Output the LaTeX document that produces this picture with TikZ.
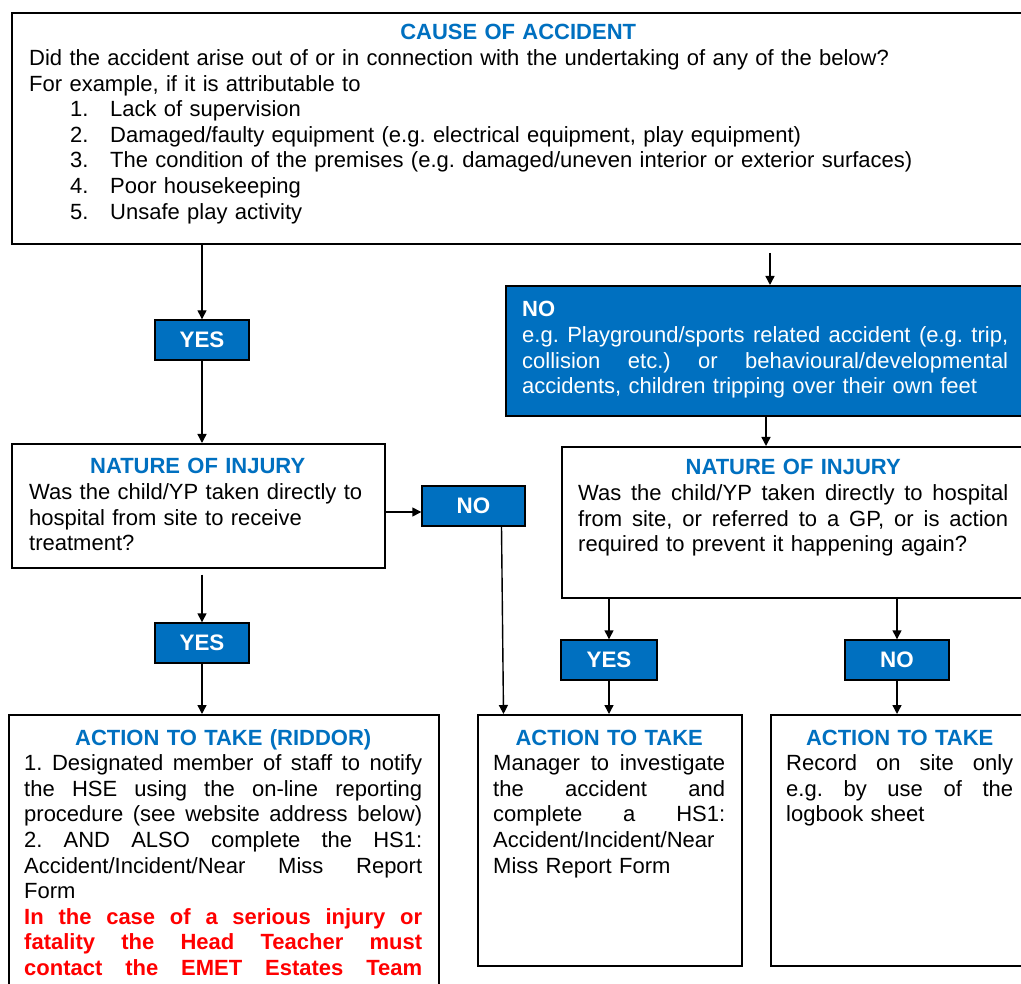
\documentclass[tikz,border=0pt]{standalone}
\usepackage{fontspec}
\setmainfont{Liberation Sans}
\usetikzlibrary{arrows.meta,calc}
\definecolor{blu}{HTML}{0070C0}
\definecolor{redd}{HTML}{FF0000}
\frenchspacing
\newcommand{\jl}[1]{\makebox[\linewidth][s]{\spaceskip=.278em plus 10em minus .1em\relax\xspaceskip=\spaceskip #1}}
\newcommand{\nl}[1]{\mbox{#1}}
\newcommand{\ttl}[1]{\makebox[\linewidth][c]{\bfseries\color{blu}#1}}
\newcommand{\itm}[2]{\hspace*{41pt}\makebox[40pt][l]{#1}#2}
\begin{document}
\begin{tikzpicture}[x=1pt,y=-1pt,
 box/.style={draw=black,line width=1.6pt,anchor=north west,inner sep=0pt},
 tag/.style={draw=black,line width=1.4pt,fill=blu,text=white,font=\bfseries\fontsize{22.4}{25.6}\selectfont,inner sep=0pt,minimum width=94pt,minimum height=40pt},
 txt/.style={anchor=base west,inner sep=0pt,align=left,font=\fontsize{22}{25.6}\selectfont},
 arr/.style={line width=1.4pt,-{Triangle[length=9pt,width=9pt]}}]
\path[fill=white,use as bounding box] (0,0) rectangle (1021,984);

% boxes
\node[box,minimum width=1020pt,minimum height=231pt] (top) at (11,12) {};
\node[box,fill=blu,minimum width=530pt,minimum height=130pt] (nobig) at (505,285) {};
\node[box,minimum width=373pt,minimum height=124pt] (natL) at (11,443) {};
\node[box,minimum width=470pt,minimum height=151pt] (natR) at (561,446) {};
\node[box,minimum width=430pt,minimum height=290pt] (actL) at (8,714) {};
\node[box,minimum width=264pt,minimum height=251pt] (actM) at (477,714) {};
\node[box,minimum width=270pt,minimum height=251pt] (actR) at (770,714) {};

% tags
\node[tag] (yes1) at (202,340) {YES};
\node[tag,minimum width=103pt] (nos) at (473.5,506) {NO};
\node[tag] (yes2) at (202,643) {YES};
\node[tag,minimum width=96pt] (yes3) at (609,660) {YES};
\node[tag,minimum width=104pt] (no3) at (897,660) {NO};

% texts
\node[txt,text width=978pt] (toptxt) at (29,40) {\ttl{CAUSE OF ACCIDENT}\\
Did the accident arise out of or in connection with the undertaking of any of the below?\\
For example, if it is attributable to\\
\itm{1.}{Lack of supervision}\\
\itm{2.}{Damaged/faulty equipment (e.g. electrical equipment, play equipment)}\\
\itm{3.}{The condition of the premises (e.g. damaged/uneven interior or exterior surfaces)}\\
\itm{4.}{Poor housekeeping}\\
\itm{5.}{Unsafe play activity}};

\node[txt,text width=486pt,text=white] (nobigtxt) at (522,317) {\textbf{NO}\\
\jl{e.g. Playground/sports related accident (e.g. trip,}\\
\jl{collision etc.) or behavioural/developmental}\\
\nl{accidents, children tripping over their own feet}};

\node[txt,text width=337pt] (natLtxt) at (29,474) {\ttl{NATURE OF INJURY}\\
\nl{Was the child/YP taken directly to}\\
\nl{hospital from site to receive}\\
\nl{treatment?}};

\node[txt,text width=430pt] (natRtxt) at (578,475) {\ttl{NATURE OF INJURY}\\
\jl{Was the child/YP taken directly to hospital}\\
\jl{from site, or referred to a GP, or is action}\\
\nl{required to prevent it happening again?}};

\node[txt,text width=398pt] (actLtxt) at (24,745) {\ttl{ACTION TO TAKE (RIDDOR)}\\
\jl{1. Designated member of staff to notify}\\
\jl{the HSE using the on-line reporting}\\
\jl{procedure (see website address below)}\\
\jl{2. AND ALSO complete the HS1:}\\
\jl{Accident/Incident/Near Miss Report}\\
\nl{Form}\\
\color{redd}\bfseries\jl{In the case of a serious injury or}\\
\jl{fatality the Head Teacher must}\\
\jl{contact the EMET Estates Team}};

\node[txt,text width=232pt] (actMtxt) at (493,745) {\ttl{ACTION TO TAKE}\\
\jl{Manager to investigate}\\
\jl{the accident and}\\
\jl{complete a HS1:}\\
\jl{Accident/Incident/Near}\\
\nl{Miss Report Form}};

\node[txt,text width=227pt] (actRtxt) at (786,745) {\ttl{ACTION TO TAKE}\\
\jl{Record on site only}\\
\jl{e.g. by use of the}\\
\nl{logbook sheet}};

% connectors
\coordinate (c1) at (770,253);
\coordinate (c2) at (766,0);
\coordinate (c3) at (503.5,0);
\coordinate (c4) at (0,512);
\draw[arr] (yes1 |- top.south) -- (yes1.north);
\draw[arr] (c1) -- (c1 |- nobig.north);
\draw[arr] (yes1.south) -- (yes1 |- natL.north);
\draw[arr] (c2 |- nobig.south) -- (c2 |- natR.north);
\draw[arr] (natL.east |- c4) -- (nos.west |- c4);
\draw[arr] ([xshift=28pt]nos.south) -- (c3 |- actM.north);
\draw[arr] ($(yes2 |- natL.south)+(0,6)$) -- (yes2.north);
\draw[arr] (yes2.south) -- (yes2 |- actL.north);
\draw[arr] (yes3 |- natR.south) -- (yes3.north);
\draw[arr] (yes3.south) -- (yes3 |- actM.north);
\draw[arr] (no3 |- natR.south) -- (no3.north);
\draw[arr] (no3.south) -- (no3 |- actR.north);
\end{tikzpicture}
\end{document}
